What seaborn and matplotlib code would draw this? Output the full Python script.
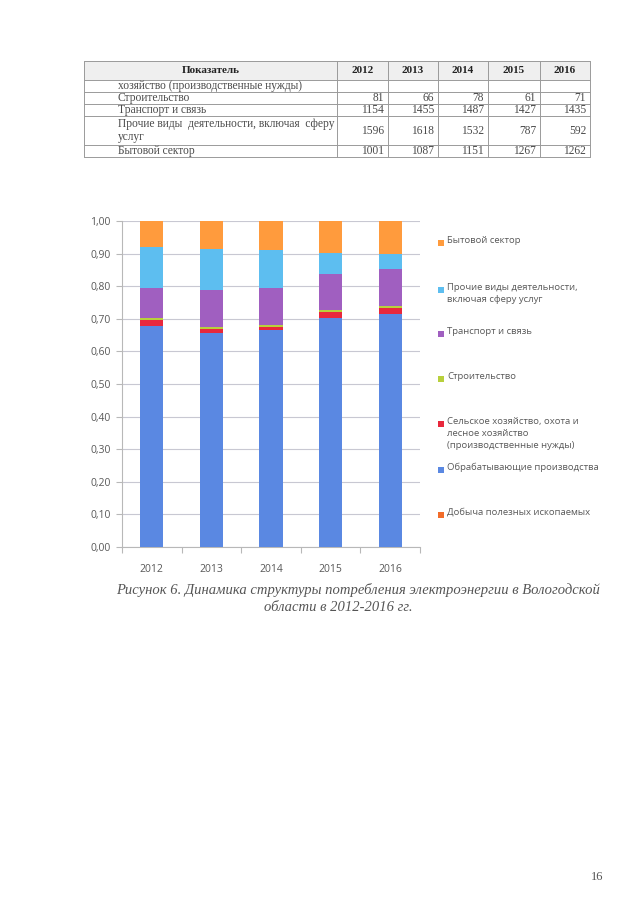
import numpy as np
import pandas as pd
import matplotlib
matplotlib.use("Agg")
import matplotlib.pyplot as plt
import seaborn as sns
from matplotlib.patches import Rectangle

# ---------------- data ----------------
years = ["2012", "2013", "2014", "2015", "2016"]
# values from the table on the page
construction = [81, 66, 78, 61, 71]
transport = [1154, 1455, 1487, 1427, 1435]
other = [1596, 1618, 1532, 787, 592]
household = [1001, 1087, 1151, 1267, 1262]
# values estimated from the chart
manufacturing = [8508, 8400, 8685, 8932, 9023]
agriculture = [213, 166, 118, 253, 240]
mining = [15, 15, 15, 15, 15]

series_names = [
    "Добыча полезных ископаемых",
    "Обрабатывающие производства",
    "Сельское хозяйство, охота и\nлесное хозяйство\n(производственные нужды)",
    "Строительство",
    "Транспорт и связь",
    "Прочие виды деятельности,\nвключая сферу услуг",
    "Бытовой сектор",
]
series_values = [mining, manufacturing, agriculture, construction, transport, other, household]
series_colors = ["#F26C2A", "#5A88E2", "#E8283C", "#B8D03C", "#A05FC0", "#5DBEF0", "#FF9B3D"]

table_rows = [
    ("хозяйство (производственные нужды)", None),
    ("Строительство", construction),
    ("Транспорт и связь", transport),
    ("Прочие виды  деятельности, включая  сферу\nуслуг", other),
    ("Бытовой сектор", household),
]

# ---------------- figure ----------------
sns.set_theme(style="white")
plt.rcParams["font.family"] = ["Open Sans", "DejaVu Sans"]
W, H = 640, 905
fig = plt.figure(figsize=(W / 100, H / 100), dpi=100)
fig.patch.set_facecolor("white")

# page overlay (pixel coordinates)
page = fig.add_axes([0, 0, 1, 1])
page.set_xlim(0, W)
page.set_ylim(H, 0)
page.axis("off")
page.patch.set_alpha(0)

serif = ["Liberation Serif", "DejaVu Serif"]
line_c = "#9a9a9a"
col_x = [84, 337, 388, 438, 488, 540, 590]
row_y = [61, 80, 92, 104, 116, 145, 157]
page.add_patch(Rectangle((col_x[0], row_y[0]), col_x[-1] - col_x[0], row_y[1] - row_y[0],
                         facecolor="#efefef", edgecolor="none"))
for x in col_x:
    page.plot([x, x], [row_y[0], row_y[-1]], color=line_c, lw=0.7)
for y in row_y:
    page.plot([col_x[0], col_x[-1]], [y, y], color=line_c, lw=0.7)
hy = (row_y[0] + row_y[1]) / 2
page.text((col_x[0] + col_x[1]) / 2, hy, "Показатель", ha="center", va="center",
          family=serif, fontsize=8, fontweight="bold", color="#222222")
for j, yr in enumerate(years):
    page.text((col_x[j + 1] + col_x[j + 2]) / 2, hy, yr, ha="center", va="center",
              family=serif, fontsize=8, fontweight="bold", color="#222222")
for i, (label, vals) in enumerate(table_rows):
    y0, y1 = row_y[i + 1], row_y[i + 2]
    page.text(118, (y0 + y1) / 2, label, ha="left", va="center", family=serif,
              fontsize=8.3, color="#4a4a4a", linespacing=1.1)
    if vals is not None:
        for j, v in enumerate(vals):
            page.text(col_x[j + 2] - 4, (y0 + y1) / 2, str(v), ha="right", va="center",
                      family=serif, fontsize=8.3, color="#4a4a4a")

# ---------------- chart ----------------
left, right, top, bottom = 122, 420, 221, 547
ax = fig.add_axes([left / W, 1 - bottom / H, (right - left) / W, (bottom - top) / H])

vals = np.array(series_values, dtype=float)
shares = vals / vals.sum(axis=0)
cum = np.cumsum(shares, axis=0)
df = pd.DataFrame({"year": np.repeat(years, len(series_names)),
                   "series": series_names * len(years),
                   "cum": cum.T.ravel()})
for k in range(len(series_names) - 1, -1, -1):
    sub = df[df["series"] == series_names[k]]
    sns.barplot(data=sub, x="year", y="cum", order=years, color=series_colors[k],
                saturation=1, width=0.39, errorbar=None, ax=ax, zorder=3,
                linewidth=0, edgecolor="none")

ax.set_xlim(-0.5, 4.5)
ax.set_ylim(0, 1.0)
yt = np.arange(0, 1.01, 0.1)
ax.set_yticks(yt)
ax.set_yticklabels([f"{t:.2f}".replace(".", ",") for t in yt])
ax.yaxis.grid(True, color="#c8c8d2", lw=0.8, zorder=0)
ax.set_axisbelow(True)
ax.set_xlabel("")
ax.set_ylabel("")
for s in ["top", "right"]:
    ax.spines[s].set_visible(False)
ax.spines["left"].set_color("#b8b8b8")
ax.spines["bottom"].set_color("#b8b8b8")
ax.spines["left"].set_linewidth(0.8)
ax.spines["bottom"].set_linewidth(0.8)
ax.tick_params(axis="y", left=True, length=4, width=0.8, color="#b8b8b8",
               labelsize=7.5, labelcolor="#595959", pad=4)
ax.tick_params(axis="x", bottom=False, labelsize=7.5, labelcolor="#595959", pad=6)
ax.set_xticks(np.arange(-0.5, 5.0, 1.0), minor=True)
ax.tick_params(axis="x", which="minor", bottom=True, length=4, width=0.8, color="#b8b8b8")

# ---------------- legend (manual, Excel-like layout) ----------------
leg_y = [515, 470, 424, 379, 334, 290, 243]
for k in range(len(series_names)):
    y = leg_y[k]
    page.add_patch(Rectangle((438, y - 3), 6, 6, facecolor=series_colors[k], edgecolor="none"))
    page.text(447, y - 7, series_names[k], ha="left", va="top", fontsize=6.8,
              color="#595959", linespacing=1.45)

# ---------------- caption & page number ----------------
page.text(358, 590, "Рисунок 6. Динамика структуры потребления электроэнергии в Вологодской",
          ha="center", va="center", family=serif, style="italic", fontsize=10.5, color="#555555")
page.text(338, 607, "области в 2012-2016 гг.", ha="center", va="center", family=serif,
          style="italic", fontsize=10.5, color="#555555")
page.text(597, 877, "16", ha="center", va="center", family=serif, fontsize=9, color="#555555")

fig.savefig("out.png", dpi=100, facecolor="white")
